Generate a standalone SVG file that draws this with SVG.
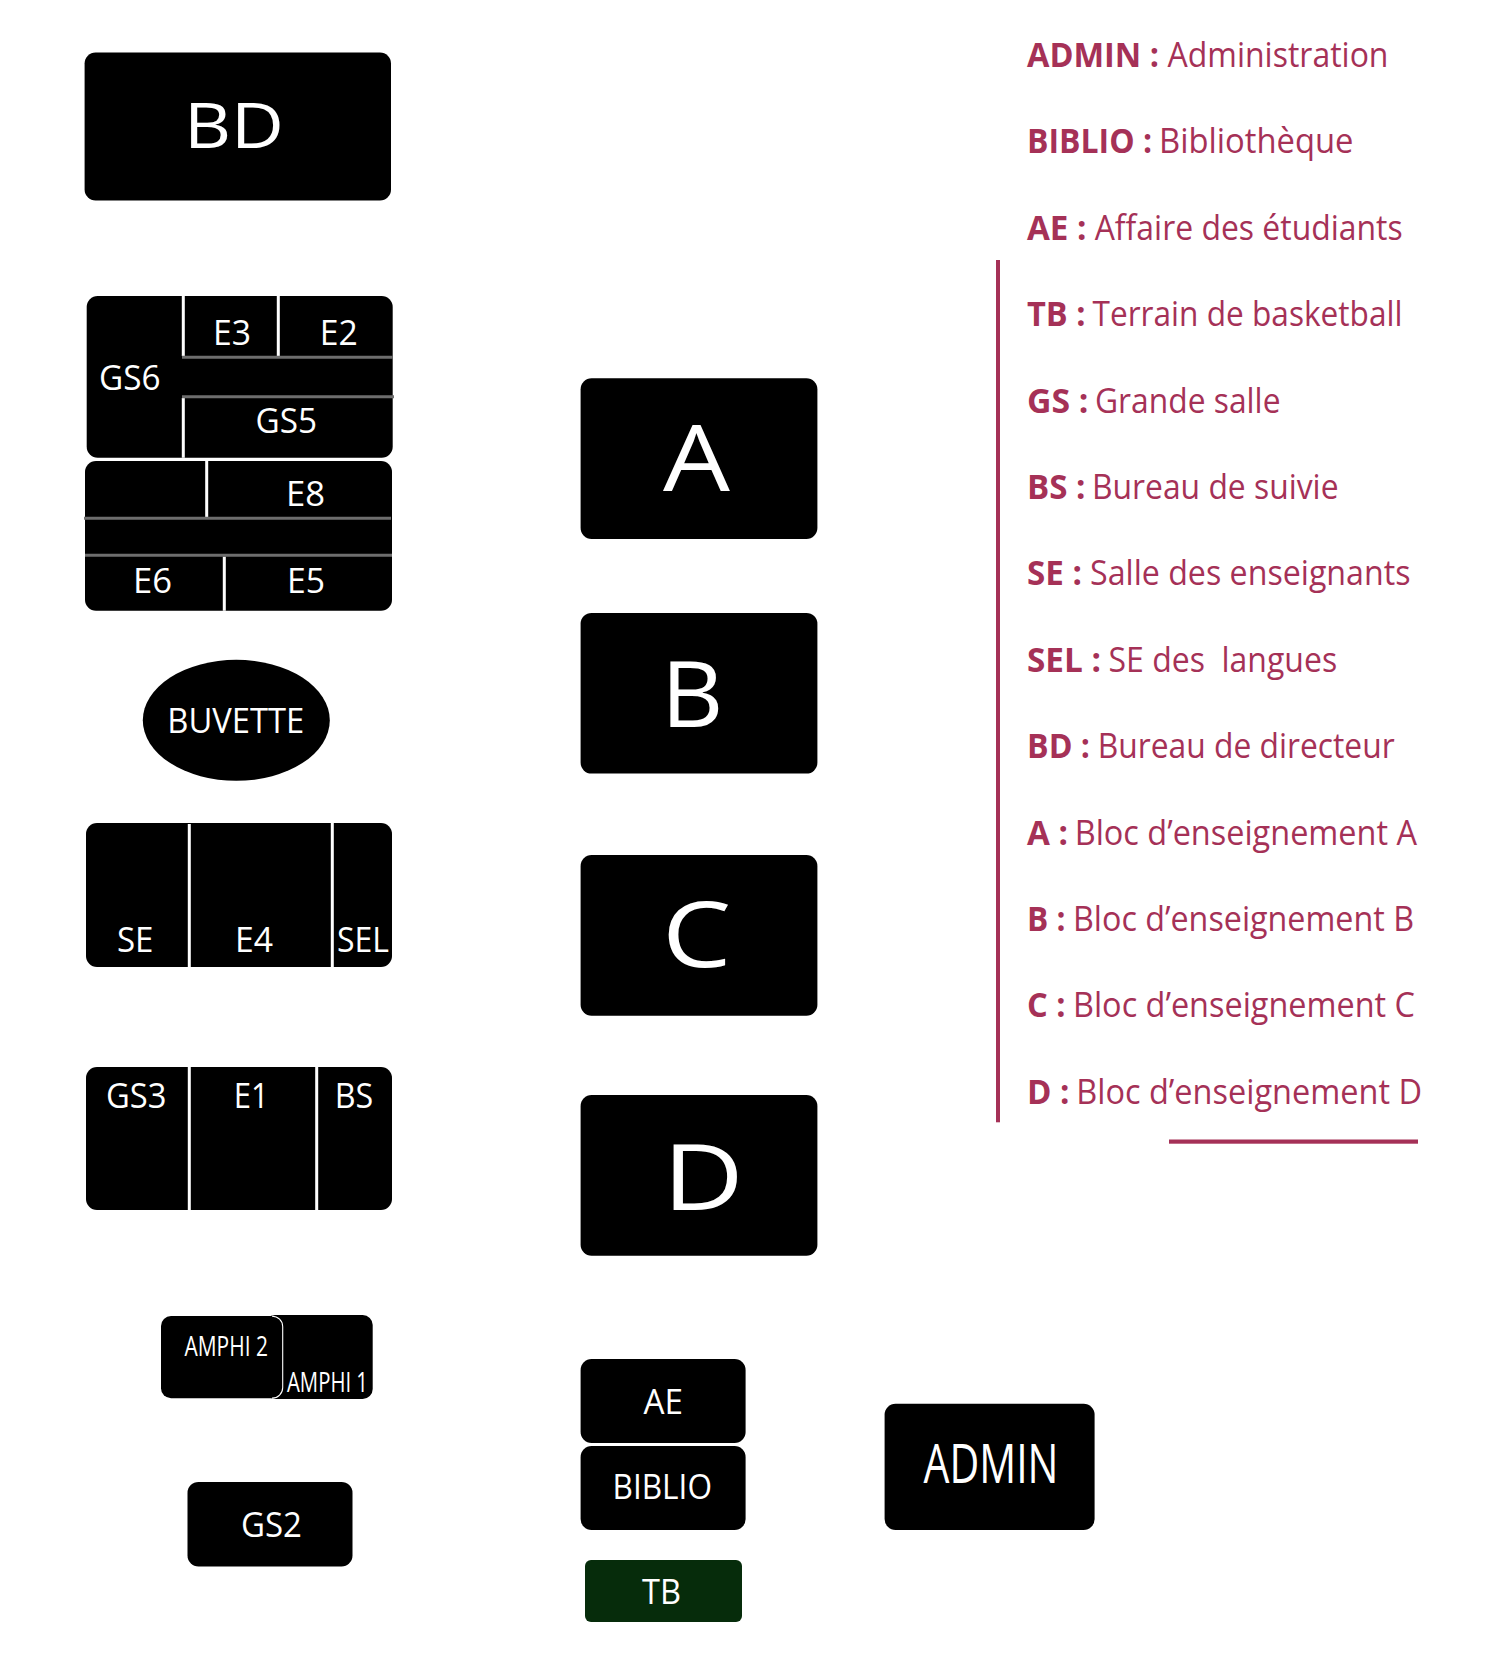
<svg xmlns="http://www.w3.org/2000/svg" width="1495" height="1680" viewBox="0 0 1495 1680">
<style>
.k{fill:#000}
.t{fill:#fff;font-family:"Open Sans","Noto Sans",sans-serif;font-size:34px}
.w{stroke:#fff;stroke-width:3;fill:none}
.g{stroke:#6d6d6d;stroke-width:3;fill:none}
.l{fill:#a53157;font-family:"Open Sans","Noto Sans",sans-serif;font-size:34px}
.l .b{font-weight:700}
.r{fill:#a53157}
</style>
<rect width="1495" height="1680" fill="#fff"/>
<g id="node-BD"><rect class="k" x="84.6" y="52.5" width="306.4" height="147.9" rx="11"/><text class="t" x="184" y="147.9" style="font-size:63px" textLength="100" lengthAdjust="spacingAndGlyphs">BD</text></g>
<g id="node-GS6-block"><rect class="k" x="86.7" y="296" width="306" height="161.7" rx="11"/>
<path class="w" d="M183.3 296V356M278.3 296V356M183.3 398V457.7"/>
<path class="g" d="M182 357.3H392.7M182 396.7H394"/>
<text class="t" x="99" y="390" textLength="61.5" lengthAdjust="spacingAndGlyphs">GS6</text>
<text class="t" x="213" y="344.7" textLength="38" lengthAdjust="spacingAndGlyphs">E3</text>
<text class="t" x="319.7" y="344.7" textLength="38" lengthAdjust="spacingAndGlyphs">E2</text>
<text class="t" x="255.5" y="432.7" textLength="61.5" lengthAdjust="spacingAndGlyphs">GS5</text></g>
<g id="node-E8-block"><rect class="k" x="85" y="461" width="307" height="149.7" rx="11"/>
<path class="w" d="M206.7 461V517M224.3 556.5V610.7"/>
<path class="g" d="M84 518.3H391M85 555.3H392"/>
<text class="t" x="286" y="506" textLength="39" lengthAdjust="spacingAndGlyphs">E8</text>
<text class="t" x="133" y="592.7" textLength="39" lengthAdjust="spacingAndGlyphs">E6</text>
<text class="t" x="287" y="592.7" textLength="38" lengthAdjust="spacingAndGlyphs">E5</text></g>
<g id="node-BUVETTE"><ellipse class="k" cx="236.3" cy="720.3" rx="93.5" ry="60.5"/><text class="t" x="167.3" y="733.3" textLength="137" lengthAdjust="spacingAndGlyphs">BUVETTE</text></g>
<g id="node-SE-block"><rect class="k" x="86" y="823" width="306" height="144" rx="11"/>
<path class="w" d="M189.3 824V967M332.3 823V967"/>
<text class="t" x="117" y="951.7" textLength="36.5" lengthAdjust="spacingAndGlyphs">SE</text>
<text class="t" x="235" y="951.7" textLength="38" lengthAdjust="spacingAndGlyphs">E4</text>
<text class="t" x="337" y="951.7" textLength="52" lengthAdjust="spacingAndGlyphs">SEL</text></g>
<g id="node-GS3-block"><rect class="k" x="86" y="1067" width="306" height="143" rx="11"/>
<path class="w" d="M189.3 1067V1210M316.7 1067V1210"/>
<text class="t" x="106" y="1108" textLength="60.5" lengthAdjust="spacingAndGlyphs">GS3</text>
<text class="t" x="233.7" y="1108" textLength="35" lengthAdjust="spacingAndGlyphs">E1</text>
<text class="t" x="334.7" y="1108" textLength="38.5" lengthAdjust="spacingAndGlyphs">BS</text></g>
<g id="node-AMPHI"><rect class="k" x="265" y="1315" width="107.7" height="84" rx="10"/>
<rect class="k" x="161" y="1316" width="121.7" height="82.3" rx="10"/>
<path d="M272 1316.2A10.5 10.5 0 0 1 282.7 1326.7V1387.5A10.5 10.5 0 0 1 272 1398.1" fill="none" stroke="#fff" stroke-width="1.1"/>
<text class="t" x="184.5" y="1355.8" style="font-size:27px" textLength="83.5" lengthAdjust="spacingAndGlyphs">AMPHI 2</text>
<text class="t" x="287" y="1391.5" style="font-size:27px" textLength="81" lengthAdjust="spacingAndGlyphs">AMPHI 1</text></g>
<g id="node-GS2"><rect class="k" x="187.5" y="1481.9" width="165" height="84.6" rx="11"/><text class="t" x="241" y="1536.8" textLength="61" lengthAdjust="spacingAndGlyphs">GS2</text></g>
<g id="node-A"><rect class="k" x="580.6" y="378.2" width="236.8" height="160.8" rx="11"/><text class="t" x="663.1" y="490.7" style="font-size:92px" textLength="67" lengthAdjust="spacingAndGlyphs">A</text></g>
<g id="node-B"><rect class="k" x="580.6" y="612.9" width="236.8" height="160.7" rx="11"/><text class="t" x="660.9" y="727" style="font-size:92px" textLength="62.4" lengthAdjust="spacingAndGlyphs">B</text></g>
<g id="node-C"><rect class="k" x="580.6" y="855" width="236.8" height="160.8" rx="11"/><text class="t" x="662.1" y="967" style="font-size:92px" textLength="69.4" lengthAdjust="spacingAndGlyphs">C</text></g>
<g id="node-D"><rect class="k" x="580.6" y="1095" width="236.8" height="160.8" rx="11"/><text class="t" x="662.7" y="1209.7" style="font-size:92px" textLength="81" lengthAdjust="spacingAndGlyphs">D</text></g>
<g id="node-AE"><rect class="k" x="580.6" y="1359" width="165" height="84" rx="11"/><text class="t" x="643.5" y="1414.3" textLength="39.5" lengthAdjust="spacingAndGlyphs">AE</text></g>
<g id="node-BIBLIO"><rect class="k" x="580.6" y="1446" width="165" height="84" rx="11"/><text class="t" x="612.5" y="1499.3" textLength="99.5" lengthAdjust="spacingAndGlyphs">BIBLIO</text></g>
<g id="node-TB"><rect x="585" y="1560" width="157" height="62" rx="6" fill="#062c0b"/><text class="t" x="642" y="1604.3" textLength="39" lengthAdjust="spacingAndGlyphs">TB</text></g>
<g id="node-ADMIN"><rect class="k" x="884.6" y="1403.7" width="210" height="126.3" rx="11"/><text class="t" x="923.5" y="1483" style="font-size:54px" textLength="135" lengthAdjust="spacingAndGlyphs">ADMIN</text></g>
<g id="legend">
<rect class="r" x="996" y="260" width="4" height="862.3"/>
<rect class="r" x="1169" y="1139.5" width="249" height="4.2"/>
<text class="l" y="66.7"><tspan class="b" x="1027" textLength="132" lengthAdjust="spacingAndGlyphs">ADMIN :</tspan><tspan x="1167.5" textLength="221" lengthAdjust="spacingAndGlyphs">Administration</tspan></text>
<text class="l" y="152.7"><tspan class="b" x="1027" textLength="125" lengthAdjust="spacingAndGlyphs">BIBLIO :</tspan><tspan x="1159" textLength="194.5" lengthAdjust="spacingAndGlyphs">Bibliothèque</tspan></text>
<text class="l" y="240.3"><tspan class="b" x="1027" textLength="59.5" lengthAdjust="spacingAndGlyphs">AE :</tspan><tspan x="1094.7" textLength="308" lengthAdjust="spacingAndGlyphs">Affaire des étudiants</tspan></text>
<text class="l" y="325.7"><tspan class="b" x="1027" textLength="58.5" lengthAdjust="spacingAndGlyphs">TB :</tspan><tspan x="1092.5" textLength="310" lengthAdjust="spacingAndGlyphs">Terrain de basketball</tspan></text>
<text class="l" y="413.3"><tspan class="b" x="1027" textLength="61.5" lengthAdjust="spacingAndGlyphs">GS :</tspan><tspan x="1095" textLength="185.5" lengthAdjust="spacingAndGlyphs">Grande salle</tspan></text>
<text class="l" y="499.3"><tspan class="b" x="1027" textLength="58.5" lengthAdjust="spacingAndGlyphs">BS :</tspan><tspan x="1092" textLength="246.5" lengthAdjust="spacingAndGlyphs">Bureau de suivie</tspan></text>
<text class="l" y="585"><tspan class="b" x="1027" textLength="55" lengthAdjust="spacingAndGlyphs">SE :</tspan><tspan x="1090" textLength="320.5" lengthAdjust="spacingAndGlyphs">Salle des enseignants</tspan></text>
<text class="l" y="671.7"><tspan class="b" x="1027" textLength="74" lengthAdjust="spacingAndGlyphs">SEL :</tspan><tspan x="1108.5" textLength="228.7" lengthAdjust="spacingAndGlyphs" xml:space="preserve">SE des  langues</tspan></text>
<text class="l" y="758.3"><tspan class="b" x="1027" textLength="63" lengthAdjust="spacingAndGlyphs">BD :</tspan><tspan x="1097.7" textLength="297" lengthAdjust="spacingAndGlyphs">Bureau de directeur</tspan></text>
<text class="l" y="845"><tspan class="b" x="1027" textLength="41" lengthAdjust="spacingAndGlyphs">A :</tspan><tspan x="1074.7" textLength="342.3" lengthAdjust="spacingAndGlyphs">Bloc d’enseignement A</tspan></text>
<text class="l" y="931"><tspan class="b" x="1027" textLength="38.5" lengthAdjust="spacingAndGlyphs">B :</tspan><tspan x="1073" textLength="341" lengthAdjust="spacingAndGlyphs">Bloc d’enseignement B</tspan></text>
<text class="l" y="1017"><tspan class="b" x="1027" textLength="38.5" lengthAdjust="spacingAndGlyphs">C :</tspan><tspan x="1073" textLength="342" lengthAdjust="spacingAndGlyphs">Bloc d’enseignement C</tspan></text>
<text class="l" y="1104"><tspan class="b" x="1027" textLength="42.5" lengthAdjust="spacingAndGlyphs">D :</tspan><tspan x="1076.3" textLength="345.7" lengthAdjust="spacingAndGlyphs">Bloc d’enseignement D</tspan></text>
</g>
<g id="connectors"></g>
</svg>
